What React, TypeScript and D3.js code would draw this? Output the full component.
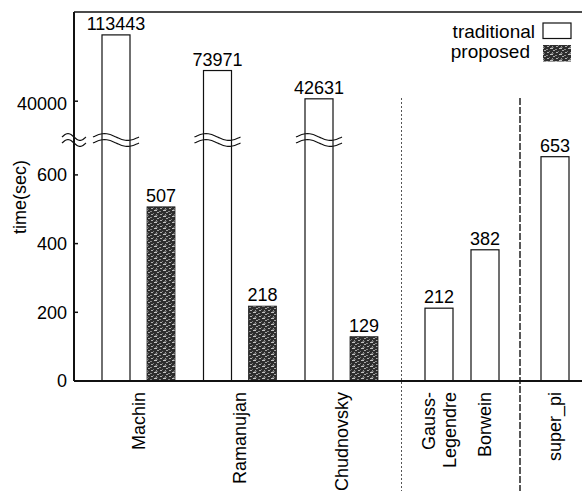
import React from "react";
import * as d3 from "d3";

// ---- data ----
const algorithms = ["Machin", "Ramanujan", "Chudnovsky", "Gauss-Legendre", "Borwein", "super_pi"];
const algorithmLabels = [["Machin"], ["Ramanujan"], ["Chudnovsky"], ["Gauss-", "Legendre"], ["Borwein"], ["super_pi"]];
const traditional = [113443, 73971, 42631, 212, 382, 653];
const proposed: (number | null)[] = [507, 218, 129, null, null, null];
const sections = [["Machin", "Ramanujan", "Chudnovsky"], ["Gauss-Legendre", "Borwein"], ["super_pi"]];
const seriesNames = ["traditional", "proposed"];
const lowerTicks = [0, 200, 400, 600];
const upperTicks = [40000];

const W = 582;
const H = 491;
const FONT = "'Liberation Sans', Arial, Helvetica, sans-serif";

export default function App() {
  const axisX = 74;
  const topY = 12;
  const baseY = 381;
  const breakY = 140;
  const lowerMax = 700;

  const yLower = d3.scaleLinear().domain([0, 600]).range([baseY, 174.9]);
  const yUpper = d3.scaleLinear().domain([40000, 113443]).range([101.2, 34.9]);
  const yOf = (v: number) => (v > lowerMax ? yUpper(v) : yLower(v));

  // section A: paired bars
  const xPair = d3.scaleBand<string>().domain(sections[0]).range([102, 102 + 3 * 101.5]).padding(0);
  const xInner = d3.scaleBand<string>().domain(seriesNames).range([0, 73]).paddingInner(17 / 45).paddingOuter(0);
  const xB = d3.scaleBand<string>().domain(sections[1]).range([425, 499]).paddingInner(18 / 46).paddingOuter(0);
  const xC = d3.scaleBand<string>().domain(sections[2]).range([541, 569]).padding(0);
  const bw = xInner.bandwidth();

  const barX = (name: string, series: string): number => {
    if (sections[0].includes(name)) return (xPair(name) as number) + (xInner(series) as number);
    if (sections[1].includes(name)) return xB(name) as number;
    return xC(name) as number;
  };
  const labelX = (name: string): number => {
    if (sections[0].includes(name)) return (xPair(name) as number) + ((xInner("traditional") as number) + (xInner("proposed") as number) + bw) / 2;
    return barX(name, "traditional") + bw / 2;
  };

  const sep1 = ((xPair("Chudnovsky") as number) + (xInner("proposed") as number) + bw + (xB("Gauss-Legendre") as number)) / 2;
  const sep2 = ((xB("Borwein") as number) + xB.bandwidth() + (xC("super_pi") as number)) / 2;

  const wave = (x0: number, x1: number, yc: number) => {
    const pts = d3.range(0, 1.0001, 0.05).map((t) => [x0 + t * (x1 - x0), yc - 3.5 * Math.sin(t * 2 * Math.PI)] as [number, number]);
    return d3.line().curve(d3.curveBasis)(pts) as string;
  };
  const waves = (cx: number, half: number, key: string) => (
    <g key={key}>
      <path d={wave(cx - half, cx + half, breakY - 3)} fill="none" stroke="#111" strokeWidth={1.2} />
      <path d={wave(cx - half, cx + half, breakY + 3)} fill="none" stroke="#111" strokeWidth={1.2} />
    </g>
  );

  return (
    <svg width={W} height={H} style={{ position: "absolute", left: 0, top: 0, background: "#fff" }} fontFamily={FONT}>
      <defs>
        <pattern id="grain" width={9} height={6} patternUnits="userSpaceOnUse">
          <rect width={9} height={6} fill="#2e2e2e" />
          <rect x={1} y={0} width={3} height={1} fill="#c4c4c4" />
          <rect x={6} y={1} width={2} height={1} fill="#8a8a8a" />
          <rect x={4} y={2} width={2} height={1} fill="#a8a8a8" />
          <rect x={0} y={3} width={1} height={1} fill="#777" />
          <rect x={7} y={4} width={2} height={1} fill="#b0b0b0" />
          <rect x={2} y={5} width={3} height={1} fill="#6a6a6a" />
          <rect x={3} y={4} width={1} height={1} fill="#999" />
        </pattern>
      </defs>

      {/* separators */}
      <line x1={sep1} x2={sep1} y1={98} y2={H} stroke="#555" strokeWidth={1} strokeDasharray="2,2" />
      <line x1={sep2} x2={sep2} y1={98} y2={H} stroke="#222" strokeWidth={1.5} strokeDasharray="7,2" />

      {/* traditional bars */}
      {algorithms.map((a, i) => {
        const v = traditional[i];
        const x = barX(a, "traditional");
        const y = yOf(v);
        return (
          <g key={"t" + a}>
            <rect x={x} y={y} width={bw} height={baseY - y} fill="#fff" stroke="#111" strokeWidth={1.2} />
            <text x={x + bw / 2} y={y - 5} textAnchor="middle" fontSize={18}>{v}</text>
          </g>
        );
      })}

      {/* proposed bars */}
      {algorithms.map((a, i) => {
        const v = proposed[i];
        if (v == null) return null;
        const x = barX(a, "proposed");
        const y = yOf(v);
        return (
          <g key={"p" + a}>
            <rect x={x} y={y} width={bw} height={baseY - y} fill="url(#grain)" stroke="#222" strokeWidth={0.8} />
            <text x={x + bw / 2} y={y - 5} textAnchor="middle" fontSize={18}>{v}</text>
          </g>
        );
      })}

      {/* axes */}
      <line x1={axisX} x2={W} y1={topY} y2={topY} stroke="#111" strokeWidth={1.5} />
      <line x1={axisX} x2={axisX} y1={topY} y2={baseY} stroke="#111" strokeWidth={2} />
      <line x1={axisX} x2={W} y1={baseY} y2={baseY} stroke="#111" strokeWidth={2} />

      {lowerTicks.map((t) => (
        <g key={"lt" + t}>
          <line x1={axisX} x2={axisX + 4} y1={yLower(t)} y2={yLower(t)} stroke="#111" strokeWidth={1.5} />
          <text x={axisX - 7} y={yLower(t)} dy="0.36em" textAnchor="end" fontSize={18}>{t}</text>
        </g>
      ))}
      {upperTicks.map((t) => (
        <g key={"ut" + t}>
          <line x1={axisX} x2={axisX + 4} y1={yUpper(t)} y2={yUpper(t)} stroke="#111" strokeWidth={1.5} />
          <text x={axisX - 7} y={yUpper(t)} dy="0.5em" textAnchor="end" fontSize={18}>{t}</text>
        </g>
      ))}

      {/* breaks */}
      {waves(axisX, 12, "axisw")}
      {algorithms.map((a, i) =>
        traditional[i] > lowerMax ? waves(barX(a, "traditional") + bw / 2, 23, "w" + a) : null
      )}

      {/* y label */}
      <text transform={`translate(20,197) rotate(-90)`} textAnchor="middle" dy="0.35em" fontSize={18}>time(sec)</text>

      {/* x labels */}
      {algorithms.map((a, i) => {
        const lines = algorithmLabels[i];
        const cx = labelX(a);
        const lh = 21;
        return lines.map((ln, j) => {
          const x = cx + (j - (lines.length - 1) / 2) * lh;
          return (
            <text key={a + j} transform={`translate(${x},392) rotate(-90)`} textAnchor="end" dy="0.35em" fontSize={18}>{ln}</text>
          );
        });
      })}

      {/* legend */}
      <text x={535} y={31} dy="0.35em" textAnchor="end" fontSize={19}>traditional</text>
      <rect x={543} y={23} width={28} height={15.5} fill="#fff" stroke="#111" strokeWidth={1.2} />
      <text x={530} y={51} dy="0.35em" textAnchor="end" fontSize={19}>proposed</text>
      <rect x={543} y={45} width={28} height={16.5} fill="url(#grain)" />
    </svg>
  );
}
